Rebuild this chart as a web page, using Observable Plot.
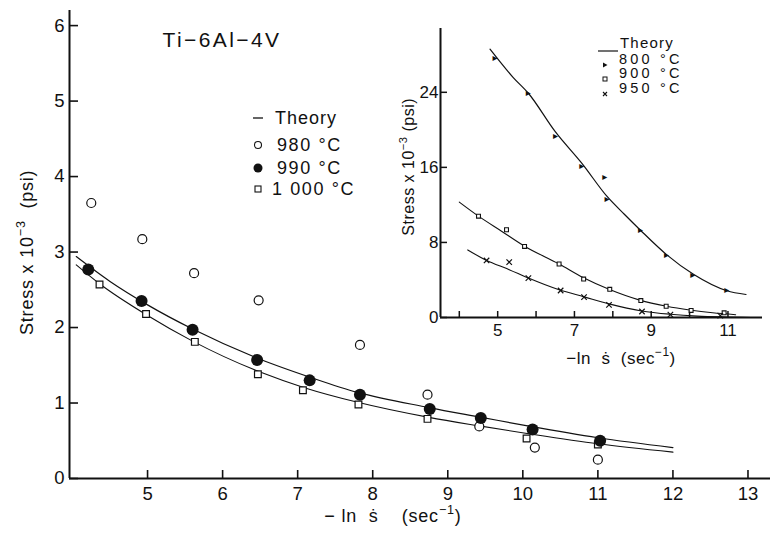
<!DOCTYPE html>
<html><head><meta charset="utf-8">
<script src="https://cdn.jsdelivr.net/npm/d3@7"></script>
<script src="https://cdn.jsdelivr.net/npm/@observablehq/plot@0.6"></script>
<style>
body{margin:0;background:#fff;}
#wrap{position:relative;width:770px;height:539px;overflow:hidden;font-family:"Liberation Sans",Arial,sans-serif;color:#111;background:#fff}
#wrap > svg{position:absolute;top:0}
.lbl{position:absolute;white-space:nowrap}
.lbl sup{font-size:0.7em;position:relative;top:-0.1em}
</style></head><body><div id="wrap"></div>
<script>
// ---------- main chart data (Ti-6Al-4V) ----------
const mainXTicks = [5, 6, 7, 8, 9, 10, 11, 12, 13];
const mainYTicks = [0, 1, 2, 3, 4, 5, 6];

const x980 = [4.25, 4.93, 5.62, 6.48, 7.83, 8.73, 9.42, 10.16, 11.0];
const y980 = [3.65, 3.17, 2.72, 2.36, 1.77, 1.11, 0.69, 0.41, 0.25];

const x990 = [4.21, 4.92, 5.60, 6.46, 7.16, 7.83, 8.76, 9.44, 10.13, 11.03];
const y990 = [2.77, 2.35, 1.97, 1.57, 1.30, 1.11, 0.92, 0.80, 0.65, 0.50];

const x1000 = [4.36, 4.98, 5.63, 6.47, 7.07, 7.81, 8.73, 10.05, 11.0];
const y1000 = [2.57, 2.18, 1.81, 1.38, 1.17, 0.98, 0.79, 0.53, 0.45];

const xTheoryA = [4.05, 4.5, 5.0, 5.6, 6.5, 7.2, 7.8, 8.75, 9.45, 10.1, 11.0, 12.0];
const yTheoryA = [2.94, 2.61, 2.30, 1.98, 1.58, 1.33, 1.14, 0.94, 0.81, 0.69, 0.54, 0.41];
const xTheoryB = [4.05, 4.36, 5.0, 5.6, 6.5, 7.1, 7.8, 8.75, 9.4, 10.1, 11.0, 12.0];
const yTheoryB = [2.83, 2.58, 2.16, 1.82, 1.41, 1.20, 1.01, 0.81, 0.70, 0.59, 0.46, 0.35];

// ---------- inset data ----------
const insetXTicks = [4, 5, 6, 7, 8, 9, 10, 11];
const insetXLabels = [5, 7, 9, 11];
const insetYTicks = [0, 8, 16, 24];

const x800 = [4.93, 5.80, 6.51, 7.19, 7.79, 7.85, 8.72, 9.40, 10.08, 10.97];
const y800 = [27.7, 24.0, 19.4, 16.2, 15.0, 12.6, 9.3, 6.7, 4.6, 2.9];
const x900 = [4.50, 5.23, 5.70, 6.60, 7.24, 7.92, 8.73, 9.39, 10.04, 10.9];
const y900 = [10.8, 9.35, 7.57, 5.7, 4.1, 3.0, 1.8, 1.2, 0.75, 0.5];
const x950 = [4.71, 5.30, 5.80, 6.64, 7.25, 7.90, 8.76, 9.50, 10.8];
const y950 = [6.08, 5.9, 4.2, 2.88, 2.17, 1.35, 0.64, 0.3, 0.2];

const xT800 = [4.8, 5.4, 5.8, 6.5, 7.2, 7.85, 8.3, 8.72, 9.4, 10.1, 10.97, 11.47];
const yT800 = [28.6, 25.6, 23.9, 19.8, 16.4, 12.9, 11.0, 9.3, 6.7, 4.6, 2.85, 2.45];
const xT900 = [4.0, 4.5, 5.1, 5.7, 6.6, 7.25, 7.9, 8.7, 9.4, 10.0, 10.6, 11.2];
const yT900 = [12.3, 10.8, 9.2, 7.6, 5.7, 4.2, 3.0, 1.85, 1.2, 0.8, 0.5, 0.3];
const xT950 = [4.22, 4.7, 5.3, 5.8, 6.6, 7.25, 7.9, 8.75, 9.5, 10.2, 11.0, 11.6];
const yT950 = [7.2, 6.1, 5.1, 4.2, 2.95, 2.2, 1.45, 0.7, 0.35, 0.15, 0.05, 0.0];

const zip = (xs, ys) => xs.map((x, i) => ({x, y: ys[i]}));
const INK = "#111";
const fmt = d => String(d);

// ---------- main plot ----------
const M = {w: 770, h: 539, l: 69, r: 0, t: 10, b: 61};
const mainXDom = [3.96, 13.3], mainYDom = [0, 6.2];
const mxU = (M.w - M.l - M.r) / (mainXDom[1] - mainXDom[0]);   // px per x unit
const myU = (M.h - M.t - M.b) / (mainYDom[1] - mainYDom[0]);   // px per y unit
const main = Plot.plot({
  width: M.w, height: M.h,
  marginLeft: M.l, marginRight: M.r, marginTop: M.t, marginBottom: M.b,
  x: {domain: mainXDom},
  y: {domain: mainYDom},
  style: {fontFamily: "Liberation Sans, Arial, sans-serif", fontSize: "18.5px", color: INK, background: "transparent"},
  marks: [
    Plot.axisX({ticks: mainXTicks, tickSize: 0, tickPadding: 8, tickFormat: fmt, label: null}),
    Plot.axisY({ticks: mainYTicks, tickSize: 0, tickPadding: 5, tickFormat: fmt, label: null}),
    // inward tick marks
    Plot.ruleX(mainXTicks, {x: d => d, y1: mainYDom[0], y2: mainYDom[0] + 8 / myU, stroke: INK, strokeWidth: 1.6}),
    Plot.ruleY(mainYTicks, {y: d => d, x1: mainXDom[0], x2: mainXDom[0] + 9 / mxU, stroke: INK, strokeWidth: 1.6}),
    Plot.ruleY([mainYDom[0]], {stroke: INK, strokeWidth: 2}),
    Plot.ruleX([mainXDom[0]], {stroke: INK, strokeWidth: 2}),
    Plot.line(zip(xTheoryA, yTheoryA), {x: "x", y: "y", curve: "monotone-x", stroke: INK, strokeWidth: 1.2}),
    Plot.line(zip(xTheoryB, yTheoryB), {x: "x", y: "y", curve: "monotone-x", stroke: INK, strokeWidth: 1.1}),
    Plot.dot(zip(x980, y980), {x: "x", y: "y", r: 4.5, stroke: INK, strokeWidth: 1.2, fill: "white"}),
    Plot.dot(zip(x1000, y1000), {x: "x", y: "y", r: 3.8, symbol: "square", stroke: INK, strokeWidth: 1.2, fill: "white"}),
    Plot.dot(zip(x990, y990), {x: "x", y: "y", r: 6, fill: INK, stroke: null})
  ]
});

// ---------- inset plot ----------
const I = {w: 400, h: 370, l: 70, r: 8, t: 28, b: 53};
const inXDom = [3.51, 11.9], inYDom = [0, 30.8];
const ixU = (I.w - I.l - I.r) / (inXDom[1] - inXDom[0]);
const iyU = (I.h - I.t - I.b) / (inYDom[1] - inYDom[0]);
const inset = Plot.plot({
  width: I.w, height: I.h,
  marginLeft: I.l, marginRight: I.r, marginTop: I.t, marginBottom: I.b,
  x: {domain: inXDom},
  y: {domain: inYDom},
  style: {fontFamily: "Liberation Sans, Arial, sans-serif", fontSize: "17px", color: INK, background: "transparent"},
  marks: [
    Plot.axisX({ticks: insetXLabels, tickSize: 0, tickPadding: 6, tickFormat: fmt, label: null}),
    Plot.axisY({ticks: insetYTicks, tickSize: 0, tickPadding: 2, tickFormat: fmt, label: null}),
    Plot.ruleX(insetXTicks, {x: d => d, y1: inYDom[0], y2: inYDom[0] + 6 / iyU, stroke: INK, strokeWidth: 1.5}),
    Plot.ruleY(insetYTicks, {y: d => d, x1: inXDom[0], x2: inXDom[0] + 7 / ixU, stroke: INK, strokeWidth: 1.5}),
    Plot.ruleY([inYDom[0]], {stroke: INK, strokeWidth: 2}),
    Plot.ruleX([inXDom[0]], {stroke: INK, strokeWidth: 2}),
    Plot.line(zip(xT800, yT800), {x: "x", y: "y", curve: "monotone-x", stroke: INK, strokeWidth: 1.2}),
    Plot.line(zip(xT900, yT900), {x: "x", y: "y", curve: "monotone-x", stroke: INK, strokeWidth: 1.1}),
    Plot.line(zip(xT950, yT950), {x: "x", y: "y", curve: "monotone-x", stroke: INK, strokeWidth: 1.1}),
    Plot.text(zip(x800, y800), {x: "x", y: "y", text: () => "\u25B8", fontSize: 10, fontFamily: "DejaVu Sans", fill: INK}),
    Plot.dot(zip(x900, y900), {x: "x", y: "y", r: 2.2, symbol: "square", stroke: INK, strokeWidth: 1.1, fill: "white"}),
    Plot.dot(zip(x950, y950), {x: "x", y: "y", r: 2.6, symbol: "times", stroke: INK, strokeWidth: 1.2})
  ]
});

const wrap = document.getElementById("wrap");
main.style.left = "0px";
inset.style.left = "370px";
wrap.appendChild(main);
wrap.appendChild(inset);

function place(html, left, cy, size, extra = "", lh = 1.2) {
  const d = document.createElement("div");
  d.className = "lbl";
  d.style.cssText = `left:${left}px;top:${cy - size * lh / 2}px;font-size:${size}px;line-height:${size * lh}px;${extra}`;
  d.innerHTML = html;
  wrap.appendChild(d);
  return d;
}
function placeCenter(html, cx, cy, size, extra = "") {
  const d = place(html, 0, cy, size, extra);
  const w = d.getBoundingClientRect().width;
  d.style.left = (cx - w / 2) + "px";
  return d;
}
function vlabel(html, cx, cy, size, extra = "") {
  const d = place(html, 0, 0, size, extra);
  const r = d.getBoundingClientRect();
  d.style.left = (cx - r.width / 2) + "px";
  d.style.top = (cy - r.height / 2) + "px";
  d.style.transform = "rotate(-90deg)";
  return d;
}
function sym(svgInner, left, cy, w = 14, h = 14) {
  const d = document.createElement("div");
  d.style.cssText = `position:absolute;left:${left - w / 2}px;top:${cy - h / 2}px;width:${w}px;height:${h}px`;
  d.innerHTML = `<svg width="${w}" height="${h}" viewBox="${-w/2} ${-h/2} ${w} ${h}">${svgInner}</svg>`;
  wrap.appendChild(d);
}

// main title
placeCenter("Ti\u22126Al\u22124V", 222, 40, 21, "letter-spacing:2.4px");
// main axis titles
vlabel("Stress x 10<sup>\u22123</sup> &nbsp;(psi)", 26, 252, 18, "letter-spacing:0.8px");
placeCenter("\u2212 ln&nbsp; \u1E61 &nbsp;&nbsp;&nbsp;(sec<sup>\u22121</sup>)", 393, 512, 18, "letter-spacing:0.8px");

// main legend
sym(`<line x1="-5" x2="5" y1="0" y2="0" stroke="${INK}" stroke-width="1.3"/>`, 258, 118);
place("Theory", 275, 118, 18, "letter-spacing:1px", 1.05);
sym(`<circle r="3.5" fill="white" stroke="${INK}" stroke-width="1.1"/>`, 258, 145);
place("980 \u00B0C", 277, 145, 18, "letter-spacing:1.6px", 1.05);
sym(`<circle r="4.5" fill="${INK}"/>`, 258, 168);
place("990 \u00B0C", 277, 168, 18, "letter-spacing:1.6px", 1.05);
sym(`<rect x="-3" y="-3" width="6" height="6" fill="white" stroke="${INK}" stroke-width="1.1"/>`, 258, 189);
place("1 000 \u00B0C", 272, 189, 18, "letter-spacing:1.6px", 1.05);

// inset axis titles
vlabel("Stress x 10<sup>\u22123</sup> (psi)", 407, 167, 16, "letter-spacing:0.5px");
placeCenter("\u2212ln &nbsp;\u1E61 &nbsp;(sec<sup>\u22121</sup>)", 621, 353, 17, "letter-spacing:0.5px");

// inset legend
sym(`<line x1="-10" x2="10" y1="0" y2="0" stroke="${INK}" stroke-width="1.2"/>`, 608, 43, 22, 6);
place("Theory", 620, 43, 15, "letter-spacing:1.2px", 0.85);
sym(`<path d="M-2,-2.5L2.5,0L-2,2.5Z" fill="${INK}"/>`, 605, 59, 8, 8);
place("800 \u00B0C", 619, 59, 14.5, "letter-spacing:3.2px", 0.85);
sym(`<rect x="-2" y="-2" width="4" height="4" fill="white" stroke="${INK}" stroke-width="1"/>`, 605, 73, 8, 8);
place("900 \u00B0C", 619, 73.5, 14.5, "letter-spacing:3.2px", 0.85);
sym(`<path d="M-2,-2L2,2M-2,2L2,-2" stroke="${INK}" stroke-width="1.1"/>`, 605, 88, 8, 8);
place("950 \u00B0C", 619, 88, 14.5, "letter-spacing:3.2px", 0.85);
</script></body></html>
